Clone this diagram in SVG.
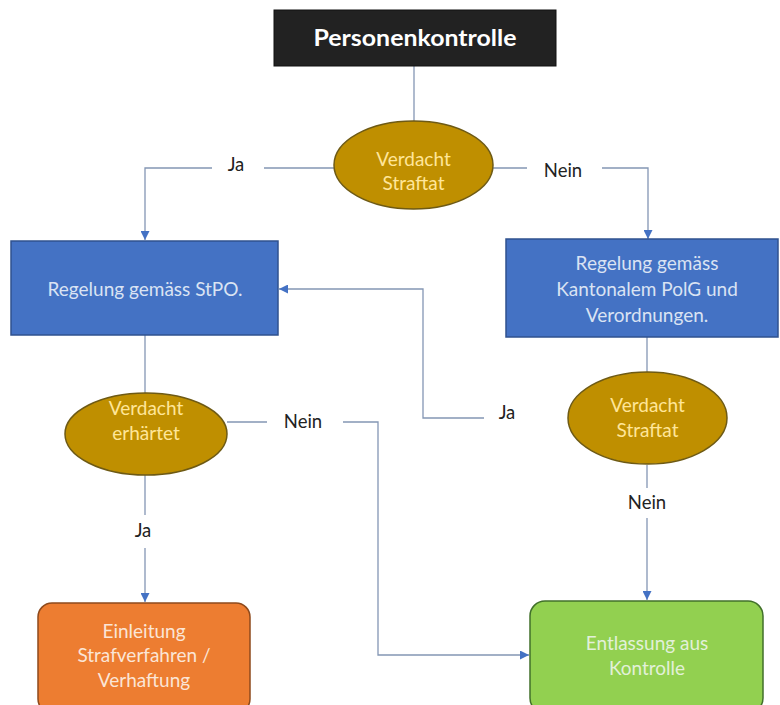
<svg xmlns="http://www.w3.org/2000/svg" width="780" height="705" viewBox="0 0 780 705">
<style>
.t{font-family:Lato,"Open Sans","Liberation Sans",sans-serif;text-anchor:middle}
.lbl{font-family:Lato,"Open Sans","Liberation Sans",sans-serif;font-size:18.5px;fill:#222;text-anchor:middle}
.con{fill:none;stroke:#8496B4;stroke-width:1.3}
.dia{fill:#BF8F00;stroke:#6E5A14;stroke-width:1.5}
.diat{font-size:19px;fill:#FFE699}
.box{fill:#4472C4;stroke:#2F528F;stroke-width:1.5}
.boxt{font-size:19px;fill:#DAE3F3}
.nt{font-size:19px}
</style>
<defs>
<marker id="ah" viewBox="0 0 10 10" refX="10" refY="5" markerWidth="9" markerHeight="9" markerUnits="userSpaceOnUse" orient="auto">
<path d="M0,0 L10,5 L0,10 z" fill="#4472C4"/>
</marker>
</defs>
<rect width="780" height="705" fill="#ffffff"/>
<g id="connectors">
<path class="con" d="M414,66 V121"/>
<path class="con" d="M334,168 H264 M212,168 H145 V240" marker-end="url(#ah)"/>
<path class="con" d="M493,168 H527 M602,168 H648 V239" marker-end="url(#ah)"/>
<path class="con" d="M145,335 V394"/>
<path class="con" d="M647,337 V372"/>
<path class="con" d="M568,418 H612 M484,418 H423 V289 H279" marker-end="url(#ah)"/>
<path class="con" d="M647,465 V488 M647,518 V600" marker-end="url(#ah)"/>
<path class="con" d="M145,475 V515 M145,548 V602" marker-end="url(#ah)"/>
<path class="con" d="M227,422 H267 M343,422 H378 V655 H529" marker-end="url(#ah)"/>
</g>
<g id="labels">
<text class="lbl" x="236" y="171">Ja</text>
<text class="lbl" x="563" y="177">Nein</text>
<text class="lbl" x="507" y="419">Ja</text>
<text class="lbl" x="647" y="509">Nein</text>
<text class="lbl" x="303" y="428">Nein</text>
<text class="lbl" x="143" y="537">Ja</text>
</g>
<g id="start">
<rect x="274" y="10" width="282" height="56" fill="#222222" stroke="#111" stroke-width="1"/>
<text class="t" x="415" y="46" font-size="23" font-weight="bold" fill="#ffffff" textLength="203" lengthAdjust="spacingAndGlyphs">Personenkontrolle</text>
</g>
<g id="dec1">
<ellipse class="dia" cx="413.5" cy="165" rx="79.5" ry="44"/>
<text class="t diat" x="413.5" y="166">Verdacht</text>
<text class="t diat" x="413.5" y="190">Straftat</text>
</g>
<g id="stpo">
<rect class="box" x="11" y="241" width="267" height="94"/>
<text class="t boxt" x="145" y="296">Regelung gemäss StPO.</text>
</g>
<g id="kanton">
<rect class="box" x="506" y="239" width="272" height="98"/>
<text class="t boxt" x="647" y="270">Regelung gemäss</text>
<text class="t boxt" x="647" y="296">Kantonalem PolG und</text>
<text class="t boxt" x="647" y="322">Verordnungen.</text>
</g>
<g id="dec2">
<ellipse class="dia" cx="146" cy="434" rx="81" ry="41"/>
<text class="t diat" x="146" y="415">Verdacht</text>
<text class="t diat" x="146" y="440">erhärtet</text>
</g>
<g id="dec3">
<ellipse class="dia" cx="647.5" cy="418" rx="79.5" ry="46"/>
<text class="t diat" x="647.5" y="412">Verdacht</text>
<text class="t diat" x="647.5" y="437">Straftat</text>
</g>
<g id="verhaftung">
<rect x="38" y="603" width="212" height="110" rx="14" fill="#ED7D31" stroke="#8E4A1C" stroke-width="1.5"/>
<text class="t nt" x="144" y="638" fill="#FBE5D6">Einleitung</text>
<text class="t nt" x="144" y="662" fill="#FBE5D6">Strafverfahren /</text>
<text class="t nt" x="144" y="687" fill="#FBE5D6">Verhaftung</text>
</g>
<g id="entlassung">
<rect x="530" y="601" width="233" height="112" rx="15" fill="#92D050" stroke="#41702A" stroke-width="1.5"/>
<text class="t nt" x="647" y="650" fill="#E2F0D9">Entlassung aus</text>
<text class="t nt" x="647" y="675" fill="#E2F0D9">Kontrolle</text>
</g>
</svg>
